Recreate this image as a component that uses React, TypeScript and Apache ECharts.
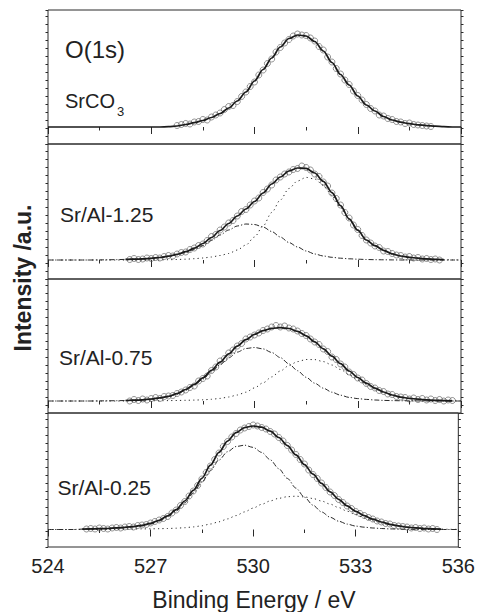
import React, { useEffect, useRef } from "react";
import * as echarts from "echarts";

// ---------- axis ----------
const X_MIN = 524;
const X_MAX = 536;
const X_INTERVAL = 3;
const FIT_STEP = 0.25;
const DATA_STEP = 0.125;

// ---------- texts ----------
const TITLE = "O(1s)";
const PANEL_LABELS = ["SrCO", "Sr/Al-1.25", "Sr/Al-0.75", "Sr/Al-0.25"];
const X_TITLE = "Binding Energy / eV";
const Y_TITLE = "Intensity /a.u.";

// ---------- panel 1 : SrCO3 ----------
const p1DataStart = 527.75;
const p1Data = [1.5, 2.5, 3.5, 3, 5, 5.5, 7.5, 7, 10, 12, 14, 17.5, 20.5, 21.5, 25.5, 30.5, 35, 40.5, 45, 52, 57, 63.5, 68, 75, 79.5, 84, 87.5, 91, 93, 92, 91.5, 89, 86, 80.5, 77, 70, 65, 58.5, 53, 47, 42.5, 36, 31.5, 27, 22.5, 18.5, 16, 12, 11, 8.5, 7.5, 5.5, 5, 3.5, 4, 2.5, 2, 1.5, 1, 0.5];
const p1SumStart = 524;
const p1Sum = [0, 0, 0, 0, 0, 0, 0, 0, 0, 0, 0, 0, 0, 0, 0.3, 1, 2.5, 4.3, 6.5, 9.5, 13.5, 19, 26, 35, 46, 57.5, 69, 80, 88.5, 92, 91, 85.5, 76, 64.5, 52.5, 42, 31, 22, 16, 10.5, 7, 4.8, 3.3, 2.2, 1.4, 0.8, 0.3, 0, 0];

// ---------- panel 2 : Sr/Al-1.25 ----------
const p2DataStart = 526.375;
const p2Data = [0.5, 1.5, 0.5, 1, 2, 1.5, 2.5, 2, 3.5, 4.5, 4, 6, 7.5, 8, 10.5, 12, 14.5, 16, 19.5, 23.5, 25.5, 30, 33, 37, 39.5, 44, 48.5, 50.5, 55, 59, 62, 67.5, 71, 75, 80, 83, 86, 88, 90.5, 91.5, 94, 92.5, 90, 86, 83.5, 78, 74, 67, 61.5, 55, 47.5, 42, 35, 30.5, 24.5, 20, 17, 14, 12.5, 9, 8.5, 6.5, 5, 4.5, 3, 3.5, 2, 2.5, 1, 1.5, 0.5, 1, 0];
const p2SumStart = 526.25;
const p2Sum = [0.6, 0.8, 1.1, 1.6, 2.5, 3.9, 5.7, 8.3, 11.8, 16.5, 22.5, 29.5, 36.5, 44, 51, 58.5, 67, 76, 83, 89, 92, 91.6, 87, 78.7, 67.4, 54.3, 41.2, 29.8, 20, 14.3, 9.7, 6.1, 4.0, 2.7, 1.8, 1.1, 0.6, 0.3];
const p2LowStart = 524;
const p2Low = [0, 0, 0, 0, 0, 0, 0.1, 0.2, 0.4, 0.6, 0.8, 1.1, 1.6, 2.4, 3.6, 5.2, 7.5, 10.5, 14.5, 19.5, 25, 30, 34, 36, 35.5, 33, 28.5, 23, 17.5, 13, 9, 6, 4, 2.7, 1.8, 1.2, 0.8, 0.5, 0.3, 0.2, 0.1, 0, 0, 0, 0, 0, 0, 0, 0];
const p2HighStart = 524;
const p2High = [0, 0, 0, 0, 0, 0, 0, 0, 0, 0, 0, 0, 0, 0, 0.3, 0.5, 0.8, 1.3, 2, 3, 4.5, 6.5, 10, 15, 23, 34, 47.5, 60, 71.5, 79, 82.6, 81, 74.7, 64.7, 52.5, 40, 29, 19.5, 14, 9.5, 6, 4, 2.7, 1.8, 1.1, 0.6, 0.3, 0.1, 0];

// ---------- panel 3 : Sr/Al-0.75 ----------
const p3DataStart = 526.375;
const p3Data = [0, 1.5, 0.5, 2, 1, 2.5, 3.5, 2.5, 4.5, 5, 5.5, 7.5, 9, 11, 13.5, 15, 20, 22.5, 25, 30.5, 34, 40, 42.5, 48, 51, 55, 57.5, 62, 64, 66, 68, 70.5, 72, 74, 75.5, 74, 75, 73, 72, 70, 67.5, 65.5, 62, 59, 56.5, 52, 49.5, 44, 41.5, 37, 34, 29, 26.5, 23, 21, 17.5, 14.5, 13, 10.5, 9.5, 7, 6.5, 4.5, 4, 3.5, 2, 3, 1.5, 2.5, 1, 2, 0.5, 1.5, 0, 1, 0.5];
const p3SumStart = 526.25;
const p3Sum = [0.5, 0.8, 1.1, 2.0, 3.1, 4.7, 7.4, 11.5, 16.6, 23.1, 30.7, 38.8, 47.2, 54.9, 61.3, 66.6, 70.3, 72.6, 73.4, 72.5, 69.7, 65.2, 59.2, 52.2, 44.8, 37.3, 30.0, 23.5, 17.8, 12.9, 9.0, 6.0, 3.85, 2.65, 1.8, 1.1, 0.7, 0.4, 0.2];
const p3LowStart = 524;
const p3Low = [0, 0, 0, 0, 0, 0, 0.1, 0.2, 0.3, 0.5, 0.8, 1.1, 1.8, 2.8, 4.3, 6.9, 10.8, 15.7, 21.9, 29, 36.2, 43.2, 48.9, 52.5, 53.5, 52.1, 48.5, 43.4, 37.1, 30.3, 23.7, 17.8, 12.8, 8.8, 5.8, 3.6, 2.4, 1.6, 1.0, 0.6, 0.4, 0.25, 0.15, 0.1, 0, 0, 0, 0, 0];
const p3HighStart = 524;
const p3High = [0, 0, 0, 0, 0, 0, 0, 0, 0, 0, 0, 0, 0.2, 0.3, 0.4, 0.5, 0.7, 0.9, 1.2, 1.7, 2.6, 4.0, 6.0, 8.8, 13.1, 18.2, 24.1, 30.0, 35.4, 39.4, 41.5, 41.4, 39.4, 36.0, 31.5, 26.4, 21.1, 16.2, 11.9, 8.4, 5.6, 3.6, 2.5, 1.7, 1.1, 0.7, 0.4, 0.2, 0.1];

// ---------- panel 4 : Sr/Al-0.25 ----------
const p4DataStart = 525.125;
const p4Data = [0.5, 1, 0.5, 1.5, 1, 0.5, 1.5, 2, 1.5, 2.5, 3, 2.5, 4, 4.5, 5, 6.5, 8, 9.5, 11, 13, 16.5, 19.5, 24, 28, 33.5, 38.5, 44, 50.5, 57, 63.5, 70, 76.5, 83, 88, 92.5, 96, 99.5, 101.5, 103, 104.5, 103.5, 102, 100.5, 98, 95.5, 92, 88.5, 84, 79.5, 75, 70, 65.5, 59.5, 55, 51, 46.5, 42, 37.5, 34, 30, 27, 23.5, 21, 18, 16, 14, 12, 10.5, 8.5, 7.5, 6, 5.5, 4, 3.5, 3, 2.5, 1.5, 2, 1, 1.5, 0.5, 1, 0];
const p4SumStart = 525;
const p4Sum = [0.4, 0.6, 0.8, 1.0, 1.6, 2.2, 3.0, 4.2, 6.1, 9.2, 13.7, 19.8, 28.5, 39.1, 51.2, 64.3, 77.1, 88.4, 96.9, 101.9, 103.5, 102.3, 98.3, 92.0, 83.9, 74.7, 64.9, 55.3, 46.1, 37.7, 30.2, 23.7, 18.2, 13.9, 10.3, 7.5, 5.2, 3.6, 2.4, 1.6, 1.0, 0.6, 0.35];
const p4LowStart = 524;
const p4Low = [0, 0, 0, 0, 0.4, 0.6, 0.8, 1.0, 1.3, 1.8, 2.5, 3.6, 5.4, 8.4, 12.7, 18.5, 26.7, 36.5, 47.5, 58.8, 69.4, 77.8, 83.0, 84.3, 82.1, 77.1, 69.7, 60.8, 51.1, 41.4, 32.3, 24.3, 17.6, 12.3, 8.3, 5.4, 3.4, 2.3, 1.5, 1.0, 0.6, 0.4, 0.25, 0.15, 0.1, 0, 0, 0, 0];
const p4HighStart = 524;
const p4High = [0, 0, 0, 0, 0, 0, 0, 0, 0.3, 0.4, 0.5, 0.6, 0.7, 0.8, 1.0, 1.3, 1.8, 2.6, 3.7, 5.5, 7.7, 10.6, 13.9, 17.6, 21.4, 25.2, 28.6, 31.2, 32.8, 33.3, 32.6, 31.0, 28.5, 25.4, 21.9, 18.3, 14.8, 11.6, 8.8, 6.5, 4.6, 3.2, 2.1, 1.4, 0.9, 0.6, 0.35, 0.2, 0.1];

// ---------- layout (kept apart from data) ----------
const W = 478;
const H = 612;
const PLOT_LEFT = 48;
const PLOT_WIDTH = 413;
const PANEL_TOP = [10, 144, 279, 413];
const PANEL_HEIGHT = [134, 135, 134, 134];
const Y_MIN = [-17, -19, -12, -17.5];
const Y_MAX = [117, 116, 122, 116.5];
const FONT = "'Liberation Sans', Arial, Helvetica, sans-serif";
const INK = "#222";

const pts = (start: number, step: number, vals: number[]) =>
  vals.map((v, i) => [Number((start + i * step).toFixed(4)), v]);

function buildOption() {
  const grids = PANEL_TOP.map((t, i) => ({
    left: PLOT_LEFT,
    width: PLOT_WIDTH,
    top: t,
    height: PANEL_HEIGHT[i],
    show: true,
    borderColor: "#2a2a2a",
    borderWidth: 1,
    backgroundColor: "transparent",
  }));

  const xAxes = PANEL_TOP.map((_, i) => ({
    gridIndex: i,
    type: "value",
    min: X_MIN,
    max: X_MAX,
    interval: X_INTERVAL,
    axisLine: { show: false },
    axisTick: { show: true, inside: false, length: 7, lineStyle: { color: "#2a2a2a", width: 1 } },
    minorTick: { show: true, splitNumber: 2, length: 3.5, lineStyle: { color: "#2a2a2a", width: 1 } },
    splitLine: { show: false },
    minorSplitLine: { show: false },
    axisLabel:
      i === 3
        ? { show: true, fontSize: 20, color: INK, margin: 9, fontFamily: FONT }
        : { show: false },
  }));

  const yAxes: any[] = [];
  PANEL_TOP.forEach((_, i) => {
    yAxes.push({ gridIndex: i, type: "value", min: Y_MIN[i], max: Y_MAX[i], show: false });
    ["left", "right"].forEach((pos) =>
      yAxes.push({
        gridIndex: i,
        type: "value",
        position: pos,
        min: 0,
        max: PANEL_HEIGHT[i],
        interval: 8,
        axisLine: { show: false },
        axisTick: { show: true, inside: false, length: 2.5, lineStyle: { color: "#2a2a2a", width: 1 } },
        axisLabel: { show: false },
        splitLine: { show: false },
      })
    );
  });

  const scatter = (i: number, data: number[][]) => ({
    type: "scatter",
    xAxisIndex: i,
    yAxisIndex: 3 * i,
    data,
    symbol: "circle",
    symbolSize: 6,
    itemStyle: { color: "rgba(0,0,0,0)", borderColor: "#555", borderWidth: 0.8 },
    z: 2,
    silent: true,
  });
  const line = (i: number, data: number[][], style: any, z: number) => ({
    type: "line",
    xAxisIndex: i,
    yAxisIndex: 3 * i,
    data,
    symbol: "none",
    showSymbol: false,
    smooth: 0.3,
    smoothMonotone: "x",
    lineStyle: style,
    z,
    silent: true,
  });
  const solid = { color: "#1a1a1a", width: 1.7, type: "solid" };
  const dashDot = { color: "#2a2a2a", width: 1, type: [5, 2, 1.2, 2] };
  const dotted = { color: "#2a2a2a", width: 1, type: [1.2, 3.2] };

  const series = [
    scatter(0, pts(p1DataStart, DATA_STEP, p1Data)),
    line(0, pts(p1SumStart, FIT_STEP, p1Sum), solid, 5),

    scatter(1, pts(p2DataStart, DATA_STEP, p2Data)),
    line(1, pts(p2LowStart, FIT_STEP, p2Low), dashDot, 3),
    line(1, pts(p2HighStart, FIT_STEP, p2High), dotted, 3),
    line(1, pts(p2SumStart, FIT_STEP, p2Sum), solid, 5),

    scatter(2, pts(p3DataStart, DATA_STEP, p3Data)),
    line(2, pts(p3LowStart, FIT_STEP, p3Low), dashDot, 3),
    line(2, pts(p3HighStart, FIT_STEP, p3High), dotted, 3),
    line(2, pts(p3SumStart, FIT_STEP, p3Sum), solid, 5),

    scatter(3, pts(p4DataStart, DATA_STEP, p4Data)),
    line(3, pts(p4LowStart, FIT_STEP, p4Low), dashDot, 3),
    line(3, pts(p4HighStart, FIT_STEP, p4High), dotted, 3),
    line(3, pts(p4SumStart, FIT_STEP, p4Sum), solid, 5),
  ];

  const txt = (text: string, x: number, y: number, size: number, extra: any = {}) => ({
    type: "text",
    x,
    y,
    silent: true,
    z: 10,
    style: {
      text,
      fill: INK,
      fontSize: size,
      fontFamily: FONT,
      textAlign: "left",
      align: "left",
      textVerticalAlign: "middle",
      verticalAlign: "middle",
      ...extra,
    },
  });

  const graphic = [
    txt(TITLE, 65, 49, 24),
    txt(PANEL_LABELS[0], 65, 101, 20),
    txt("3", 117, 111.5, 13),
    txt(PANEL_LABELS[1], 60, 214, 21),
    txt(PANEL_LABELS[2], 59, 357.5, 21),
    txt(PANEL_LABELS[3], 57.5, 487.5, 21),
    txt(X_TITLE, 254, 600, 23, { textAlign: "center", align: "center" }),
    {
      ...txt(Y_TITLE, 0, 0, 23, { textAlign: "center", align: "center", fontWeight: "bold" }),
      x: 23,
      y: 278,
      rotation: Math.PI / 2,
    },
  ];

  return {
    animation: false,
    backgroundColor: "#ffffff",
    grid: grids,
    xAxis: xAxes,
    yAxis: yAxes,
    series,
    graphic,
  };
}

export default function App() {
  const ref = useRef<HTMLDivElement | null>(null);
  useEffect(() => {
    document.body.style.margin = "0";
    if (!ref.current) return;
    const chart = echarts.init(ref.current, null, { renderer: "svg" });
    chart.setOption(buildOption() as any);
    return () => chart.dispose();
  }, []);
  return <div ref={ref} style={{ width: W, height: H }} />;
}
